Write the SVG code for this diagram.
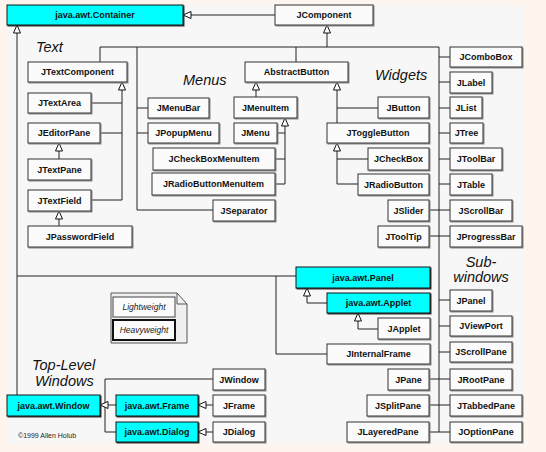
<svg xmlns="http://www.w3.org/2000/svg" xmlns:xlink="http://www.w3.org/1999/xlink" width="546" height="452" viewBox="0 0 546 452">
<style>
.b{fill:#fbfbfb;stroke:#333;stroke-width:1;filter:url(#sh)}
.c{fill:#00ffff;stroke:#111;stroke-width:1;filter:url(#sh2)}
.t{font-family:"Liberation Sans",Arial,sans-serif;font-size:9px;font-weight:bold;fill:#111;text-anchor:middle}
.lbl{font-family:"Liberation Sans",Arial,sans-serif;font-size:14.5px;font-style:italic;fill:#111}
.lg{font-family:"Liberation Sans",Arial,sans-serif;font-size:8.5px;font-style:italic;fill:#222;text-anchor:middle}
.ln{stroke:#222;stroke-width:1;fill:none}
.tri{fill:#fff;stroke:#111;stroke-width:1}
</style>
<defs>
<filter id="sh" x="-10%" y="-10%" width="130%" height="150%"><feDropShadow dx="1" dy="1" stdDeviation="0" flood-color="#888"/></filter>
<filter id="sh2" x="-10%" y="-10%" width="130%" height="150%"><feDropShadow dx="1" dy="1" stdDeviation="0" flood-color="#333"/></filter>
<path id="up" d="M0,0 L-3.5,8 L3.5,8 Z" class="tri"/>
<path id="lf" d="M0,0 L8,-3.5 L8,3.5 Z" class="tri"/>
</defs>
<rect x="0" y="0" width="546" height="452" fill="#fdf5ee"/>
<rect x="7" y="5" width="516" height="438" fill="#f7f7f7"/>

<g id="connectors">
<path class="ln" d="M275,15 H191"/>
<path class="ln" d="M327,33 V47 M100,47 H439 M100,47 V62 M137,47 V210 H213 M296,47 V62 M439,47 V432"/>
<path class="ln" d="M439,57 H450 M439,82 H450 M439,108 H450 M439,133 H450 M439,159 H450 M439,184 H450 M439,210 H450 M439,236 H450 M439,300 H450 M439,326 H450 M439,352 H450 M439,379 H450 M439,405 H450 M439,432 H450"/>
<path class="ln" d="M429,210 H439 M429,236 H439 M429,379 H439 M429,405 H439 M429,432 H439"/>
<path class="ln" d="M17,33 V395 M17,276 H296 M276,276 V354 H327"/>
<path class="ln" d="M122,90 V200 H91 M91,103 H122 M100,133 H122 M59,151 V159 M59,219 V226"/>
<path class="ln" d="M137,108 H148 M137,133 H148 M256,90 V97 M285,126 V184 M277,133 H285 M275,159 H285 M275,184 H285"/>
<path class="ln" d="M337,90 V123 M337,108 H378 M337,151 V184 M337,159 H368 M337,184 H358"/>
<path class="ln" d="M307,296 V303 H327 M358,321 V329 H378"/>
<path class="ln" d="M108,405 H116 M105,379 V432 M105,379 H213 M105,432 H116 M206,405 H213 M206,432 H213"/>
<use xlink:href="#lf" x="183" y="15"/>
<use xlink:href="#up" x="327" y="25"/>
<use xlink:href="#up" x="17" y="25"/>
<use xlink:href="#up" x="122" y="82"/>
<use xlink:href="#up" x="59" y="143"/>
<use xlink:href="#up" x="59" y="211"/>
<use xlink:href="#up" x="256" y="82"/>
<use xlink:href="#up" x="285" y="118"/>
<use xlink:href="#up" x="337" y="82"/>
<use xlink:href="#up" x="337" y="143"/>
<use xlink:href="#up" x="307" y="288"/>
<use xlink:href="#up" x="358" y="313"/>
<use xlink:href="#lf" x="100" y="405"/>
<use xlink:href="#lf" x="198" y="405"/>
<use xlink:href="#lf" x="198" y="432"/>
</g>

<g id="labels">
<text class="lbl" x="36" y="52">Text</text>
<text class="lbl" x="183" y="85">Menus</text>
<text class="lbl" x="375" y="80">Widgets</text>
<text class="lbl" x="481" y="267" text-anchor="middle">Sub-</text>
<text class="lbl" x="481" y="282" text-anchor="middle">windows</text>
<text class="lbl" x="32" y="370">Top-Level</text>
<text class="lbl" x="35" y="386">Windows</text>
<text x="18" y="438" font-family="Liberation Sans, Arial, sans-serif" font-size="7px" fill="#222">©1999 Allen Holub</text>
</g>

<g id="legend">
<path d="M111,293 H177 L187,304 V343 H111 Z" fill="#f0f0f0" stroke="#555"/>
<path d="M177,293 V304 H187" fill="none" stroke="#555"/>
<rect x="113" y="297" width="62" height="20" fill="#fbfbfb" stroke="#444"/>
<text class="lg" x="144" y="310">Lightweight</text>
<rect x="113" y="320" width="62" height="20" fill="#fbfbfb" stroke="#111" stroke-width="2"/>
<text class="lg" x="144" y="333">Heavyweight</text>
</g>

<g id="n-container"><rect class="c" x="7" y="5" width="176" height="20"/><text class="t" x="95" y="18">java.awt.Container</text></g>
<g id="n-jcomponent"><rect class="b" x="275" y="5" width="98" height="20"/><text class="t" x="324" y="18">JComponent</text></g>

<g id="n-jtextcomponent"><rect class="b" x="28" y="62" width="99" height="20"/><text class="t" x="77.5" y="75">JTextComponent</text></g>
<g id="n-jtextarea"><rect class="b" x="28" y="93" width="63" height="20"/><text class="t" x="59.5" y="106">JTextArea</text></g>
<g id="n-jeditorpane"><rect class="b" x="28" y="123" width="72" height="20"/><text class="t" x="64" y="136">JEditorPane</text></g>
<g id="n-jtextpane"><rect class="b" x="28" y="159" width="63" height="21"/><text class="t" x="59.5" y="172.5">JTextPane</text></g>
<g id="n-jtextfield"><rect class="b" x="28" y="190" width="63" height="21"/><text class="t" x="59.5" y="203.5">JTextField</text></g>
<g id="n-jpasswordfield"><rect class="b" x="28" y="226" width="104" height="21"/><text class="t" x="80" y="239.5">JPasswordField</text></g>

<g id="n-jmenubar"><rect class="b" x="148" y="98" width="61" height="20"/><text class="t" x="178.5" y="111">JMenuBar</text></g>
<g id="n-jpopupmenu"><rect class="b" x="148" y="123" width="71" height="20"/><text class="t" x="183.5" y="136">JPopupMenu</text></g>
<g id="n-abstractbutton"><rect class="b" x="245" y="62" width="103" height="20"/><text class="t" x="296.5" y="75">AbstractButton</text></g>
<g id="n-jmenuitem"><rect class="b" x="234" y="97" width="63" height="21"/><text class="t" x="265.5" y="110.5">JMenuItem</text></g>
<g id="n-jmenu"><rect class="b" x="234" y="123" width="43" height="20"/><text class="t" x="255.5" y="136">JMenu</text></g>
<g id="n-jcheckboxmenuitem"><rect class="b" x="153" y="148" width="122" height="22"/><text class="t" x="214" y="162">JCheckBoxMenuItem</text></g>
<g id="n-jradiobuttonmenuitem"><rect class="b" x="152" y="173" width="123" height="22"/><text class="t" x="213.5" y="187">JRadioButtonMenuItem</text></g>
<g id="n-jseparator"><rect class="b" x="213" y="200" width="62" height="21"/><text class="t" x="244" y="213.5">JSeparator</text></g>

<g id="n-jbutton"><rect class="b" x="378" y="97" width="51" height="21"/><text class="t" x="403.5" y="110.5">JButton</text></g>
<g id="n-jtogglebutton"><rect class="b" x="327" y="123" width="102" height="20"/><text class="t" x="378" y="136">JToggleButton</text></g>
<g id="n-jcheckbox"><rect class="b" x="368" y="148" width="61" height="22"/><text class="t" x="398.5" y="162">JCheckBox</text></g>
<g id="n-jradiobutton"><rect class="b" x="358" y="174" width="71" height="21"/><text class="t" x="393.5" y="187.5">JRadioButton</text></g>
<g id="n-jslider"><rect class="b" x="388" y="200" width="41" height="21"/><text class="t" x="408.5" y="213.5">JSlider</text></g>
<g id="n-jtooltip"><rect class="b" x="378" y="226" width="51" height="21"/><text class="t" x="403.5" y="239.5">JToolTip</text></g>

<g id="n-jcombobox"><rect class="b" x="450" y="47" width="72" height="20"/><text class="t" x="486" y="60">JComboBox</text></g>
<g id="n-jlabel"><rect class="b" x="450" y="72" width="42" height="21"/><text class="t" x="471" y="85.5">JLabel</text></g>
<g id="n-jlist"><rect class="b" x="450" y="97" width="32" height="21"/><text class="t" x="466" y="110.5">JList</text></g>
<g id="n-jtree"><rect class="b" x="450" y="123" width="33" height="20"/><text class="t" x="466.5" y="136">JTree</text></g>
<g id="n-jtoolbar"><rect class="b" x="450" y="148" width="52" height="22"/><text class="t" x="476" y="162">JToolBar</text></g>
<g id="n-jtable"><rect class="b" x="450" y="174" width="42" height="21"/><text class="t" x="471" y="187.5">JTable</text></g>
<g id="n-jscrollbar"><rect class="b" x="450" y="200" width="62" height="21"/><text class="t" x="481" y="213.5">JScrollBar</text></g>
<g id="n-jprogressbar"><rect class="b" x="450" y="226" width="72" height="21"/><text class="t" x="486" y="239.5">JProgressBar</text></g>

<g id="n-jpanel"><rect class="b" x="450" y="290" width="42" height="21"/><text class="t" x="471" y="303.5">JPanel</text></g>
<g id="n-jviewport"><rect class="b" x="450" y="316" width="62" height="20"/><text class="t" x="481" y="329">JViewPort</text></g>
<g id="n-jscrollpane"><rect class="b" x="450" y="342" width="62" height="20"/><text class="t" x="481" y="355">JScrollPane</text></g>
<g id="n-jrootpane"><rect class="b" x="450" y="369" width="62" height="21"/><text class="t" x="481" y="382.5">JRootPane</text></g>
<g id="n-jtabbedpane"><rect class="b" x="450" y="395" width="72" height="21"/><text class="t" x="486" y="408.5">JTabbedPane</text></g>
<g id="n-joptionpane"><rect class="b" x="450" y="422" width="72" height="20"/><text class="t" x="486" y="435">JOptionPane</text></g>
<g id="n-jpane"><rect class="b" x="388" y="369" width="41" height="21"/><text class="t" x="408.5" y="382.5">JPane</text></g>
<g id="n-jsplitpane"><rect class="b" x="367" y="395" width="62" height="21"/><text class="t" x="398" y="408.5">JSplitPane</text></g>
<g id="n-jlayeredpane"><rect class="b" x="347" y="422" width="82" height="20"/><text class="t" x="388" y="435">JLayeredPane</text></g>

<g id="n-panel"><rect class="c" x="296" y="267" width="134" height="21"/><text class="t" x="363" y="280.5">java.awt.Panel</text></g>
<g id="n-applet"><rect class="c" x="327" y="293" width="103" height="20"/><text class="t" x="378.5" y="306">java.awt.Applet</text></g>
<g id="n-japplet"><rect class="b" x="378" y="318" width="52" height="21"/><text class="t" x="404" y="331.5">JApplet</text></g>
<g id="n-jinternalframe"><rect class="b" x="327" y="344" width="103" height="20"/><text class="t" x="378.5" y="357">JInternalFrame</text></g>

<g id="n-window"><rect class="c" x="7" y="395" width="93" height="21"/><text class="t" x="53.5" y="408.5">java.awt.Window</text></g>
<g id="n-frame"><rect class="c" x="116" y="395" width="82" height="21"/><text class="t" x="157" y="408.5">java.awt.Frame</text></g>
<g id="n-dialog"><rect class="c" x="116" y="422" width="82" height="20"/><text class="t" x="157" y="435">java.awt.Dialog</text></g>
<g id="n-jwindow"><rect class="b" x="213" y="369" width="52" height="21"/><text class="t" x="239" y="382.5">JWindow</text></g>
<g id="n-jframe"><rect class="b" x="213" y="395" width="52" height="21"/><text class="t" x="239" y="408.5">JFrame</text></g>
<g id="n-jdialog"><rect class="b" x="213" y="422" width="52" height="20"/><text class="t" x="239" y="435">JDialog</text></g>
</svg>
